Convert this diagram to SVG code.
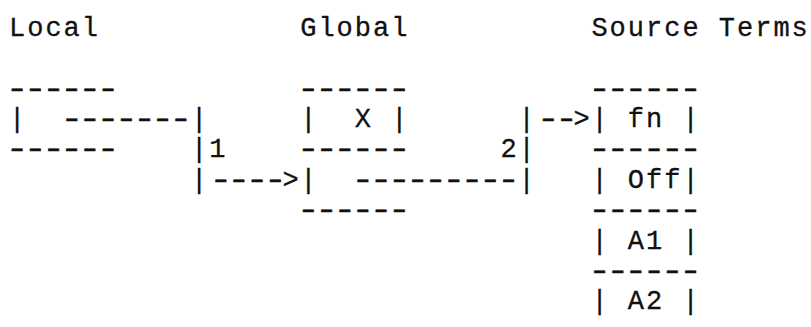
<svg xmlns="http://www.w3.org/2000/svg" width="811" height="327" viewBox="0 0 811 327">
<style>
  text { font-family: "Liberation Mono", "Courier New", monospace; font-size: 27px; letter-spacing: 2px; fill: #111; stroke: #111; stroke-width: 0.3px; white-space: pre; }
  text.d { letter-spacing: -3.2px; stroke-width: 0.6px; }
</style>
<rect width="811" height="327" fill="#fff"/>
<g id="local">
  <text x="9" y="36.2">Local</text>
  <text class="d" transform="translate(5.8,96.5) scale(1.4,1)">------</text>
  <text x="9" y="126.9">|</text>
  <text class="d" transform="translate(5.8,157.3) scale(1.4,1)">------</text>
</g>
<g id="global">
  <text x="300.2" y="36.2">Global</text>
  <text class="d" transform="translate(297,96.5) scale(1.4,1)">------</text>
  <text x="300.2" y="126.9" xml:space="preserve">|  X |</text>
  <text class="d" transform="translate(297,157.3) scale(1.4,1)">------</text>
  <text x="300.2" y="187.7">|</text>
  <text class="d" transform="translate(297,218.1) scale(1.4,1)">------</text>
</g>
<g id="source-terms">
  <text x="591.4" y="36.2" xml:space="preserve">Source Terms</text>
  <text class="d" transform="translate(588.2,96.5) scale(1.4,1)">------</text>
  <text x="591.4" y="126.9" xml:space="preserve">| fn |</text>
  <text class="d" transform="translate(588.2,157.3) scale(1.4,1)">------</text>
  <text x="591.4" y="187.7" xml:space="preserve">| Off|</text>
  <text class="d" transform="translate(588.2,218.1) scale(1.4,1)">------</text>
  <text x="591.4" y="248.5" xml:space="preserve">| A1 |</text>
  <text class="d" transform="translate(588.2,278.9) scale(1.4,1)">------</text>
  <text x="591.4" y="309.3" xml:space="preserve">| A2 |</text>
</g>
<g id="connectors">
  <g id="connector-1">
    <text class="d" transform="translate(60.4,126.9) scale(1.4,1)">-------</text>
    <text x="191" y="126.9">|</text>
    <text x="191" y="157.3">|1</text>
    <text x="191" y="187.7">|</text>
    <text class="d" transform="translate(209.4,187.7) scale(1.4,1)">----</text>
    <text x="282.6" y="187.7">&gt;</text>
  </g>
  <g id="connector-2">
    <text class="d" transform="translate(351.6,187.7) scale(1.4,1)">---------</text>
    <text x="518.6" y="187.7">|</text>
    <text x="500.4" y="157.3">2|</text>
    <text x="518.6" y="126.9">|</text>
    <text class="d" transform="translate(537,126.9) scale(1.4,1)">--</text>
    <text x="573.6" y="126.9">&gt;</text>
  </g>
</g>
</svg>
